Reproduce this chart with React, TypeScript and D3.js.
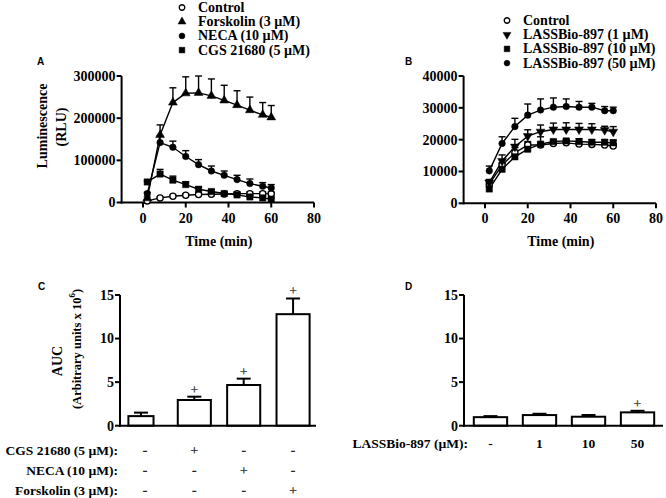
import React from "react";
import * as d3 from "d3";

// ---------- data ----------
const times = [2, 8, 14, 20, 26, 32, 38, 44, 50, 56, 60];

// Panel A
const controlA = [3800, 10900, 14900, 17200, 18900, 19600, 20000, 21000, 21000, 21000, 20500];
const controlAErr = [1500, 2000, 2500, 3000, 3500, 4000, 4000, 4000, 4000, 4000, 4000];
const forskolinA = [10000, 160000, 237000, 259000, 260000, 253000, 242000, 231000, 219000, 208000, 202000];
const forskolinAErr = [3000, 24000, 35000, 39000, 40000, 40000, 36000, 34000, 31000, 29000, 28000];
const necaA = [21000, 142000, 131000, 109000, 89700, 74700, 64500, 54300, 44900, 38500, 34500];
const necaAErr = [3000, 16000, 14500, 14000, 12000, 11800, 10200, 10200, 10800, 8700, 8000];
const cgsA = [48700, 67500, 53000, 42500, 31500, 26000, 21200, 18000, 13200, 10900, 7800];
const cgsAErr = [2500, 11000, 9500, 6500, 5500, 4500, 3000, 3000, 3000, 3000, 3000];

// Panel B
const controlB = [6000, 12000, 15900, 18300, 18300, 18800, 19000, 18600, 18500, 18300, 18000];
const controlBErr = [800, 800, 800, 700, 700, 700, 700, 700, 700, 700, 700];
const las1B = [6500, 13300, 17800, 21100, 22500, 23200, 23200, 23200, 23200, 23000, 22500];
const las1BErr = [1000, 1900, 2300, 2000, 2100, 2000, 2100, 1900, 1800, 1200, 1600];
const las10B = [4500, 10700, 14600, 17000, 18600, 19400, 19600, 19400, 19200, 19200, 19000];
const las10BErr = [700, 1800, 2900, 2400, 2300, 500, 500, 900, 800, 800, 900];
const las50B = [10200, 18800, 24100, 27700, 29300, 30200, 30400, 30200, 30200, 29100, 29100];
const las50BErr = [1500, 2100, 2600, 3500, 3500, 2900, 2400, 1800, 1200, 1300, 1100];

const xTicks = [0, 20, 40, 60, 80];
const yTicksA = [0, 100000, 200000, 300000];
const yTicksB = [0, 10000, 20000, 30000, 40000];
const yTicksBar = [0, 5, 10, 15];

// Panel C
const aucC = [1.1, 2.95, 4.67, 12.8];
const aucCErr = [0.4, 0.38, 0.73, 1.8];
const sigC = [false, true, true, true];
const cgsRow = ["-", "+", "-", "-"];
const necaRow = ["-", "-", "+", "-"];
const forskRow = ["-", "-", "-", "+"];
const rowLabelsC = ["CGS 21680 (5 \u00b5M):", "NECA (10 \u00b5M):", "Forskolin (3 \u00b5M):"];

// Panel D
const aucD = [0.98, 1.22, 1.03, 1.53];
const aucDErr = [0.12, 0.15, 0.2, 0.18];
const sigD = [false, false, false, true];
const dLabels = ["-", "1", "10", "50"];
const dAxisLabel = "LASSBio-897 (\u00b5M):";

const legendA = ["Control", "Forskolin (3 \u00b5M)", "NECA (10 \u00b5M)", "CGS 21680 (5 \u00b5M)"];
const legendB = ["Control", "LASSBio-897 (1 \u00b5M)", "LASSBio-897 (10 \u00b5M)", "LASSBio-897 (50 \u00b5M)"];

// ---------- styles ----------
const SERIF = "Liberation Serif, Tinos, DejaVu Serif, Times New Roman, serif";
const SANS = "Liberation Sans, Arial, sans-serif";
const AX = 2;
const serifBold: React.CSSProperties = { fontFamily: SERIF, fontWeight: 700 };

type Sym = "circleOpen" | "circle" | "square" | "triangle" | "triangleDown";

function symPath(s: Sym, size: number) {
  const t =
    s === "square" ? d3.symbolSquare : s === "triangle" || s === "triangleDown" ? d3.symbolTriangle : d3.symbolCircle;
  return d3.symbol().type(t).size(size)() as string;
}

function Marker({ x, y, s, size }: { x: number; y: number; s: Sym; size: number }) {
  const rot = s === "triangleDown" ? " rotate(180)" : "";
  return (
    <path
      d={symPath(s, size)}
      transform={`translate(${x},${y})${rot}`}
      fill={s === "circleOpen" ? "white" : "black"}
      stroke="black"
      strokeWidth={s === "circleOpen" ? 1.3 : 0.5}
    />
  );
}

function LinePanel({
  xr, yr, yDomain, yTicks, series, legend, legendX, legendY, letter, letterPos, yTitle,
}: any) {
  const x = d3.scaleLinear().domain([-10, 80]).range(xr);
  const y = d3.scaleLinear().domain(yDomain).range(yr);
  const line = d3
    .line<[number, number]>()
    .x((d) => x(d[0]))
    .y((d) => y(d[1]));
  const x0 = xr[0];
  const y0 = yr[0];
  return (
    <g>
      <text x={letterPos[0]} y={letterPos[1]} style={{ fontFamily: SANS, fontWeight: 700, fontSize: 10 }}>
        {letter}
      </text>
      <line x1={x0} x2={x0} y1={y0 + 1} y2={yr[1]} stroke="black" strokeWidth={AX} />
      <line x1={x0 - 1} x2={xr[1]} y1={y0} y2={y0} stroke="black" strokeWidth={AX} />
      {yTicks.map((t: number) => (
        <g key={"y" + t}>
          <line x1={x0 - 5} x2={x0} y1={y(t)} y2={y(t)} stroke="black" strokeWidth={AX} />
          <text x={x0 - 6} y={y(t)} dy="0.35em" textAnchor="end" style={{ ...serifBold, fontSize: 14 }}>
            {t}
          </text>
        </g>
      ))}
      {xTicks.map((t) => (
        <g key={"x" + t}>
          <line x1={x(t)} x2={x(t)} y1={y0} y2={y0 + 5} stroke="black" strokeWidth={AX} />
          <text x={x(t)} y={y0 + 20} textAnchor="middle" style={{ ...serifBold, fontSize: 14 }}>
            {t}
          </text>
        </g>
      ))}
      <text x={(x(-10) + x(80)) / 2 + 1} y={y0 + 43} textAnchor="middle" style={{ ...serifBold, fontSize: 14 }}>
        Time (min)
      </text>
      {yTitle}
      {series.map((s: any, si: number) => {
        const pts: [number, number][] = times.map((t, i) => [t, s.values[i]]);
        return (
          <g key={"s" + si}>
            {pts.map((p, i) => {
              const top = y(p[1] + s.err[i]);
              return (
                <g key={i}>
                  <line x1={x(p[0])} x2={x(p[0])} y1={y(p[1])} y2={top} stroke="black" strokeWidth={1.4} />
                  <line x1={x(p[0]) - 3.5} x2={x(p[0]) + 3.5} y1={top} y2={top} stroke="black" strokeWidth={1.4} />
                </g>
              );
            })}
            <path d={line(pts) as string} fill="none" stroke="black" strokeWidth={1.4} />
          </g>
        );
      })}
      {series.map((s: any, si: number) => (
        <g key={"m" + si}>
          {times.map((t, i) => (
            <Marker key={i} x={x(t)} y={y(s.values[i])} s={s.sym} size={s.size} />
          ))}
        </g>
      ))}
      {legend.map((lab: string, i: number) => (
        <g key={"l" + i}>
          <Marker x={legendX} y={legendY + i * 14.2 - 4.5} s={series[i].sym} size={series[i].size * 0.8} />
          <text x={legendX + 16} y={legendY + i * 14.2} style={{ ...serifBold, fontSize: 14 }}>
            {lab}
          </text>
        </g>
      ))}
    </g>
  );
}

function BarPanel({ xr, values, errs, sig, letter, letterPos, narrowFirst, children, render }: any) {
  const y = d3.scaleLinear().domain([0, 15]).range([425.7, 295]);
  const x = d3
    .scaleBand<number>()
    .domain(values.map((_: number, i: number) => i))
    .range(xr.range)
    .paddingInner(xr.pi)
    .paddingOuter(xr.po);
  const bw = x.bandwidth();
  const x0 = xr.axis[0];
  return (
    <g>
      <text x={letterPos[0]} y={letterPos[1]} style={{ fontFamily: SANS, fontWeight: 700, fontSize: 10 }}>
        {letter}
      </text>
      {values.map((v: number, i: number) => {
        const left = x(i) as number;
        const w = narrowFirst && i === 0 ? bw * 0.76 : bw;
        const cx = left + w / 2;
        const top = y(v + errs[i]);
        return (
          <g key={i}>
            <line x1={cx} x2={cx} y1={y(v)} y2={top} stroke="black" strokeWidth={2} />
            <line x1={cx - 7} x2={cx + 7} y1={top} y2={top} stroke="black" strokeWidth={2} />
            <rect x={left} y={y(v)} width={w} height={y(0) - y(v)} fill="white" stroke="black" strokeWidth={2} />
            {sig[i] && (
              <text
                x={cx}
                y={top - 3}
                textAnchor="middle"
                fill="#333"
                stroke="#333"
                strokeWidth={0.3}
                style={{ fontFamily: SERIF, fontWeight: 400, fontSize: 13 }}
              >
                +
              </text>
            )}
          </g>
        );
      })}
      <line x1={x0} x2={x0} y1={y(0) + 1} y2={y(15)} stroke="black" strokeWidth={AX} />
      <line x1={x0 - 1} x2={xr.axis[1]} y1={y(0)} y2={y(0)} stroke="black" strokeWidth={AX} />
      {yTicksBar.map((t) => (
        <g key={t}>
          <line x1={x0 - 5} x2={x0} y1={y(t)} y2={y(t)} stroke="black" strokeWidth={AX} />
          <text x={x0 - 6} y={y(t)} dy="0.35em" textAnchor="end" style={{ ...serifBold, fontSize: 14 }}>
            {t}
          </text>
        </g>
      ))}
      {render && render(x, bw)}
      {children}
    </g>
  );
}

export default function App() {
  const seriesA = [
    { values: controlA, err: controlAErr, sym: "circleOpen", size: 30 },
    { values: forskolinA, err: forskolinAErr, sym: "triangle", size: 34 },
    { values: necaA, err: necaAErr, sym: "circle", size: 34 },
    { values: cgsA, err: cgsAErr, sym: "square", size: 40 },
  ];
  const seriesB = [
    { values: controlB, err: controlBErr, sym: "circleOpen", size: 30 },
    { values: las1B, err: las1BErr, sym: "triangleDown", size: 34 },
    { values: las10B, err: las10BErr, sym: "square", size: 40 },
    { values: las50B, err: las50BErr, sym: "circle", size: 34 },
  ];
  return (
    <svg width={666} height={498} style={{ position: "absolute", left: 0, top: 0, background: "white" }}>
      <rect width={666} height={498} fill="white" />
      <LinePanel
        xr={[121.6, 314]}
        yr={[202.5, 76]}
        yDomain={[0, 300000]}
        yTicks={yTicksA}
        series={seriesA}
        legend={legendA}
        legendX={182}
        legendY={12}
        letter="A"
        letterPos={[37, 65]}
        yTitle={
          <g textAnchor="middle" style={{ ...serifBold, fontSize: 14 }}>
            <text transform="translate(42,126) rotate(-90)" dominantBaseline="central">
              Luminescence
            </text>
            <text transform="translate(61,127) rotate(-90)" dominantBaseline="central">
              (RLU)
            </text>
          </g>
        }
      />
      <LinePanel
        xr={[463.6, 656]}
        yr={[203.3, 76]}
        yDomain={[0, 40000]}
        yTicks={yTicksB}
        series={seriesB}
        legend={legendB}
        legendX={507}
        legendY={25}
        letter="B"
        letterPos={[405, 65]}
        yTitle={null}
      />
      <BarPanel
        xr={{ range: [120, 318], pi: 0.33, po: 0.17, axis: [120, 316] }}
        values={aucC}
        errs={aucCErr}
        sig={sigC}
        narrowFirst={true}
        letter="C"
        letterPos={[38, 290]}
        render={(x: any, bw: number) => (
          <g style={{ ...serifBold, fontSize: 13.5 }}>
            {[cgsRow, necaRow, forskRow].map((row, ri) => (
              <g key={ri}>
                <text x={118} y={455 + ri * 20} textAnchor="end">
                  {rowLabelsC[ri]}
                </text>
                {row.map((s, i) => (
                  <text
                    key={i}
                    x={(x(i) as number) + bw / 2}
                    y={455 + ri * 20}
                    textAnchor="middle"
                    fill="#222"
                    stroke="#222"
                    strokeWidth={0.3}
                    style={{ fontWeight: 400 }}
                  >
                    {s}
                  </text>
                ))}
              </g>
            ))}
          </g>
        )}
      >
        <g textAnchor="middle" style={serifBold}>
          <text transform="translate(57,361) rotate(-90)" dominantBaseline="central" style={{ fontSize: 14 }}>
            AUC
          </text>
          <text transform="translate(77,349) rotate(-90)" dominantBaseline="central" style={{ fontSize: 12.5 }}>
            (Arbitrary units x 10
            <tspan dy="-5" style={{ fontSize: 9 }}>
              6
            </tspan>
            <tspan dy="5">)</tspan>
          </text>
        </g>
      </BarPanel>
      <BarPanel
        xr={{ range: [464, 664], pi: 0.32, po: 0.2, axis: [464, 663] }}
        values={aucD}
        errs={aucDErr}
        sig={sigD}
        narrowFirst={false}
        letter="D"
        letterPos={[405, 290]}
        render={(x: any, bw: number) => (
          <g style={{ ...serifBold, fontSize: 13.5 }}>
            <text x={468} y={448} textAnchor="end">
              {dAxisLabel}
            </text>
            {dLabels.map((s, i) => (
              <text key={i} x={(x(i) as number) + bw / 2} y={448} textAnchor="middle">
                {s}
              </text>
            ))}
          </g>
        )}
      />
    </svg>
  );
}
